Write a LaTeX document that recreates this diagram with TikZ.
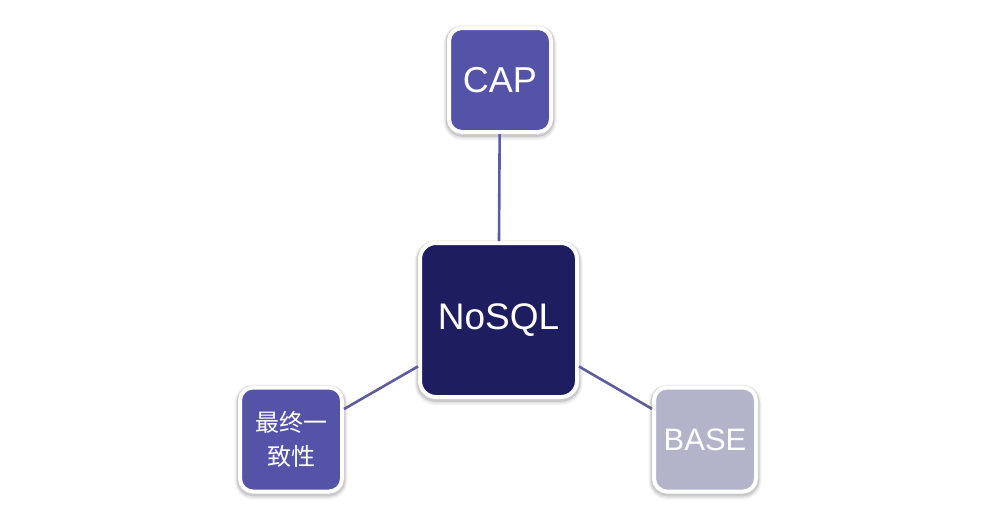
\documentclass[tikz,border=0pt]{standalone}
\usepackage{fontspec}
\setmainfont{Liberation Sans}
\newfontfamily\cjk{Noto Sans CJK SC}
\definecolor{capfill}{HTML}{5553A8}
\definecolor{nosqlfill}{HTML}{1E1D5F}
\definecolor{basefill}{HTML}{B3B3CA}
\definecolor{linkcol}{HTML}{5E5C9B}
\tikzset{
  box/.style={draw=white, line width=4pt, rounded corners=13pt, text=white,
    align=center, inner sep=0pt,
    preaction={draw=black, line width=11pt, opacity=0.05, transform canvas={yshift=-2.5pt}},
    preaction={draw=black, line width=8.5pt, opacity=0.07, transform canvas={yshift=-2pt}},
    preaction={draw=black, line width=6.5pt, opacity=0.10, transform canvas={yshift=-1.5pt}}},
  smallbox/.style={box, minimum width=102pt, minimum height=104pt},
  bigbox/.style={box, minimum width=157pt, minimum height=154pt, rounded corners=16pt},
  link/.style={draw=linkcol, line width=2.6pt}
}
\begin{document}
\begin{tikzpicture}[x=1pt,y=-1pt]
\useasboundingbox (0,0) rectangle (998,520);
\node[smallbox, fill=capfill, font=\fontsize{36}{40}\selectfont] (cap) at (500,80) {CAP};
\node[bigbox, fill=nosqlfill, font=\fontsize{37}{42}\selectfont] (nosql) at (498.5,320) {NoSQL};
\node[smallbox, fill=capfill, font=\fontsize{24}{34}\selectfont\cjk] (even) at (291,439.5) {最终一\\致性};
\node[smallbox, fill=basefill, font=\fontsize{31}{36}\selectfont] (base) at (705,439.5) {BASE};
\draw[link] (nosql) -- (cap);
\draw[link] (nosql) -- (even);
\draw[link] (nosql) -- (base);
\end{tikzpicture}
\end{document}
